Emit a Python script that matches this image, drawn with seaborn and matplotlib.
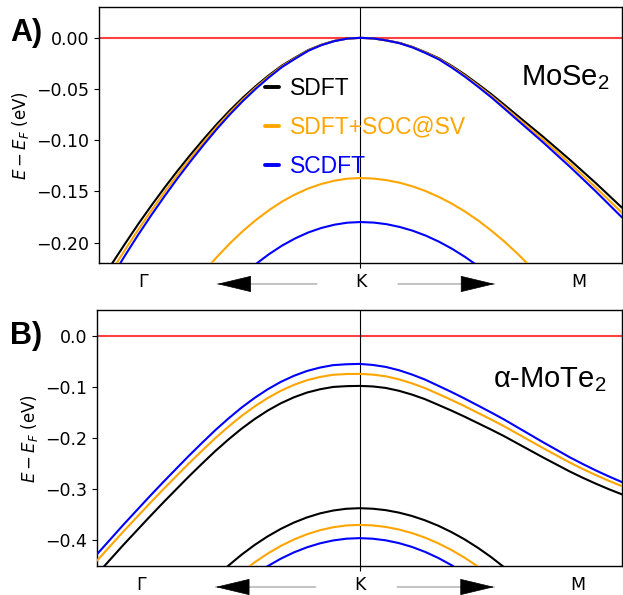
import matplotlib
matplotlib.use("Agg")
import matplotlib.pyplot as plt
from matplotlib.lines import Line2D
import seaborn as sns
import pandas as pd

# k path coordinate (K point at 0, Gamma side negative, M side positive)
K_FULL = [-1.00, -0.95, -0.90, -0.85, -0.80, -0.75, -0.70, -0.65, -0.60, -0.55, -0.50,
          -0.45, -0.40, -0.35, -0.30, -0.25, -0.20, -0.15, -0.10, -0.05, 0.00,
          0.05, 0.10, 0.15, 0.20, 0.25, 0.30, 0.35, 0.40, 0.45, 0.50,
          0.55, 0.60, 0.65, 0.70, 0.75, 0.80, 0.85, 0.90, 0.95, 1.00]
K_07 = [-0.70, -0.65, -0.60, -0.55, -0.50, -0.45, -0.40, -0.35, -0.30, -0.25, -0.20, -0.15,
        -0.10, -0.05, 0.00, 0.05, 0.10, 0.15, 0.20, 0.25, 0.30, 0.35, 0.40, 0.45, 0.50,
        0.55, 0.60, 0.65, 0.70]
K_06 = [-0.60, -0.55, -0.50, -0.45, -0.40, -0.35, -0.30, -0.25, -0.20, -0.15, -0.10, -0.05,
        0.00, 0.05, 0.10, 0.15, 0.20, 0.25, 0.30, 0.35, 0.40, 0.45, 0.50, 0.55, 0.60]
K_05 = [-0.50, -0.45, -0.40, -0.35, -0.30, -0.25, -0.20, -0.15, -0.10, -0.05, 0.00,
        0.05, 0.10, 0.15, 0.20, 0.25, 0.30, 0.35, 0.40, 0.45, 0.50]
K_04 = [-0.40, -0.35, -0.30, -0.25, -0.20, -0.15, -0.10, -0.05, 0.00,
        0.05, 0.10, 0.15, 0.20, 0.25, 0.30, 0.35, 0.40]

METHODS = ['SDFT', 'SDFT+SOC@SV', 'SCDFT']
COLORS = {'SDFT': 'black', 'SDFT+SOC@SV': 'orange', 'SCDFT': 'blue'}

# MoSe2 bands (eV)
mose2_sdft_vb1 = [-0.241, -0.2205, -0.201, -0.182, -0.164, -0.1466, -0.130, -0.1142, -0.099, -0.0845, -0.071,
                  -0.0585, -0.047, -0.0365, -0.027, -0.0193, -0.012, -0.0068, -0.003, -0.0007, 0.0,
                  -0.0006, -0.0025, -0.005, -0.009, -0.0142, -0.020, -0.0276, -0.036, -0.0453, -0.055,
                  -0.0654, -0.076, -0.0865, -0.097, -0.108, -0.119, -0.1305, -0.142, -0.154, -0.166]
mose2_soc_vb1 = [-0.2482, -0.2271, -0.207, -0.1875, -0.1689, -0.151, -0.1339, -0.1176, -0.102, -0.087, -0.0731,
                 -0.0603, -0.0484, -0.0376, -0.0278, -0.0199, -0.0124, -0.007, -0.0031, -0.0007, 0.0,
                 -0.0006, -0.0026, -0.0052, -0.0093, -0.0146, -0.0206, -0.0284, -0.0371, -0.0467, -0.0567,
                 -0.0674, -0.0783, -0.0891, -0.0999, -0.1112, -0.1226, -0.1344, -0.1463, -0.1586, -0.171]
mose2_scdft_vb1 = [-0.2547, -0.2331, -0.2125, -0.1924, -0.1733, -0.155, -0.1374, -0.1207, -0.1046, -0.0893, -0.075,
                   -0.0618, -0.0497, -0.0386, -0.0285, -0.0204, -0.0127, -0.0072, -0.0032, -0.0007, 0.0,
                   -0.0006, -0.0026, -0.0053, -0.0095, -0.015, -0.0211, -0.0292, -0.0381, -0.0479, -0.0581,
                   -0.0691, -0.0803, -0.0914, -0.1025, -0.1142, -0.1258, -0.1379, -0.1501, -0.1628, -0.1755]
mose2_soc_vb2 = [-0.2624, -0.2452, -0.2292, -0.2144, -0.201, -0.1888, -0.178, -0.1684, -0.160, -0.153,
                 -0.1472, -0.1428, -0.1396, -0.1376, -0.137, -0.1375, -0.1391, -0.1416, -0.1452, -0.1498,
                 -0.1555, -0.1621, -0.1698, -0.1785, -0.1883, -0.199, -0.2108, -0.2236, -0.2375]
mose2_scdft_vb2 = [-0.244, -0.2318, -0.221, -0.2114, -0.203, -0.196, -0.1902, -0.1858, -0.1826, -0.1806, -0.180,
                   -0.1805, -0.1821, -0.1848, -0.1885, -0.1933, -0.1992, -0.2061, -0.2141, -0.2231, -0.2333]

# alpha-MoTe2 bands (eV)
mote2_sdft_vb1 = [-0.466, -0.4375, -0.409, -0.3815, -0.354, -0.3272, -0.301, -0.275, -0.250, -0.2256, -0.203,
                  -0.1819, -0.163, -0.1463, -0.132, -0.1203, -0.111, -0.1045, -0.100, -0.0985, -0.098,
                  -0.099, -0.102, -0.1075, -0.115, -0.124, -0.135, -0.1462, -0.158, -0.1705, -0.183,
                  -0.196, -0.210, -0.224, -0.238, -0.2515, -0.265, -0.2774, -0.289, -0.2999, -0.310]
mote2_soc_vb1 = [-0.4395, -0.4111, -0.3828, -0.3554, -0.3281, -0.3014, -0.2754, -0.2495, -0.2247, -0.2004, -0.178,
                 -0.157, -0.1383, -0.1217, -0.1076, -0.096, -0.0869, -0.0805, -0.0762, -0.0748, -0.0745,
                 -0.0759, -0.0792, -0.0851, -0.093, -0.1024, -0.1137, -0.1253, -0.1375, -0.1504, -0.1632,
                 -0.1766, -0.191, -0.2054, -0.2197, -0.2336, -0.2475, -0.2603, -0.2722, -0.2835, -0.294]
mote2_scdft_vb1 = [-0.427, -0.3983, -0.3696, -0.3419, -0.3142, -0.2872, -0.2608, -0.2346, -0.2094, -0.1848, -0.162,
                   -0.1407, -0.1216, -0.1047, -0.0902, -0.0783, -0.0688, -0.0621, -0.0574, -0.0557, -0.055,
                   -0.057, -0.0609, -0.0673, -0.0758, -0.0857, -0.0977, -0.1098, -0.1226, -0.136, -0.1495,
                   -0.1634, -0.1784, -0.1933, -0.2083, -0.2227, -0.2372, -0.2505, -0.2631, -0.2749, -0.286]
mote2_sdft_vb2 = [-0.499, -0.4731, -0.4495, -0.4281, -0.409, -0.3921, -0.3775, -0.3651, -0.355, -0.3471,
                  -0.3415, -0.3381, -0.337, -0.338, -0.3408, -0.3456, -0.3522, -0.3608, -0.3712, -0.3836,
                  -0.3978, -0.414, -0.432, -0.452, -0.4738]
mote2_soc_vb2 = [-0.4841, -0.4623, -0.4429, -0.4257, -0.4108, -0.3982, -0.3879, -0.3799, -0.3742, -0.3707, -0.3696,
                 -0.3706, -0.3736, -0.3786, -0.3856, -0.3946, -0.4056, -0.4186, -0.4336, -0.4506, -0.4696]
mote2_scdft_vb2 = [-0.467, -0.4503, -0.4357, -0.4234, -0.4134, -0.4056, -0.400, -0.3966, -0.3955,
                   -0.3966, -0.3998, -0.4052, -0.4127, -0.4224, -0.4342, -0.4482, -0.4643]

PATH_LABELS = ['Γ', 'K', 'M']
PATH_POS = [-0.833, 0.0, 0.833]


def band_frame(pieces):
    rows = []
    for method, band, ks, es in pieces:
        for k, e in zip(ks, es):
            rows.append({'k': k, 'E': e, 'method': method, 'band': band})
    return pd.DataFrame(rows)


df_mose2 = band_frame([
    ('SDFT', 'vb1', K_FULL, mose2_sdft_vb1),
    ('SDFT+SOC@SV', 'vb1', K_FULL, mose2_soc_vb1),
    ('SDFT+SOC@SV', 'vb2', K_07, mose2_soc_vb2),
    ('SCDFT', 'vb1', K_FULL, mose2_scdft_vb1),
    ('SCDFT', 'vb2', K_05, mose2_scdft_vb2),
])
df_mote2 = band_frame([
    ('SDFT', 'vb1', K_FULL, mote2_sdft_vb1),
    ('SDFT', 'vb2', K_06, mote2_sdft_vb2),
    ('SDFT+SOC@SV', 'vb1', K_FULL, mote2_soc_vb1),
    ('SDFT+SOC@SV', 'vb2', K_05, mote2_soc_vb2),
    ('SCDFT', 'vb1', K_FULL, mote2_scdft_vb1),
    ('SCDFT', 'vb2', K_04, mote2_scdft_vb2),
])

sns.set_style('ticks')
plt.rcParams.update({
    'axes.edgecolor': 'black', 'axes.labelcolor': 'black', 'text.color': 'black',
    'xtick.color': 'black', 'ytick.color': 'black', 'axes.linewidth': 1.0,
})
plt.rcParams['font.family'] = ['DejaVu Sans']

fig = plt.figure(figsize=(6.23, 5.95), dpi=100)
axA = fig.add_axes([0.1589, 0.558, 0.8395, 0.430])
axB = fig.add_axes([0.1557, 0.0487, 0.8427, 0.430])


def draw_panel(ax, df, ylim, name, name_xy):
    ax.axhline(0, color='red', alpha=0.75, lw=1.5, zorder=1)
    ax.axvline(0, color='black', lw=0.8, zorder=1)
    sns.lineplot(data=df, x='k', y='E', hue='method', hue_order=METHODS,
                 units='band', estimator=None, sort=False, palette=COLORS,
                 lw=1.5, legend=False, ax=ax, zorder=3)
    ax.set_xlim(-1, 1)
    ax.set_ylim(*ylim)
    ax.set_xticks(PATH_POS)
    ax.set_xticklabels(PATH_LABELS)
    ticks = ax.xaxis.get_major_ticks()
    for i in (0, 2):
        ticks[i].tick1line.set_visible(False)
    ax.tick_params(axis='both', labelsize=12.5)
    ax.tick_params(axis='x', pad=4)
    ax.set_xlabel('')
    ax.set_ylabel('$E - E_F$ (eV)', fontsize=12)
    ax.text(name_xy[0], name_xy[1], name, transform=ax.transAxes,
            ha='right', va='baseline', fontsize=21, family='Liberation Sans')
    # direction arrows along k path
    for tail, tip in ((-0.167, -0.548), (0.144, 0.513)):
        ax.annotate('', xy=(tip, -0.082), xytext=(tail, -0.082),
                    xycoords=('data', 'axes fraction'), textcoords=('data', 'axes fraction'),
                    arrowprops=dict(arrowstyle='-', color='#aaaaaa', lw=1.0,
                                    shrinkA=0, shrinkB=0))
        head_base = tip - 0.12 * (1 if tip > tail else -1)
        ax.annotate('', xy=(tip, -0.082), xytext=(head_base, -0.082),
                    xycoords=('data', 'axes fraction'), textcoords=('data', 'axes fraction'),
                    arrowprops=dict(arrowstyle='-|>,head_length=2.3,head_width=0.55',
                                    color='black', lw=0.5, mutation_scale=10,
                                    shrinkA=0, shrinkB=0))


draw_panel(axA, df_mose2, (-0.22, 0.03), r'MoSe$_\mathregular{2}$', (0.977, 0.695))
draw_panel(axB, df_mote2, (-0.45, 0.05), r'α-MoTe$_\mathregular{2}$', (0.971, 0.70))

handles = [Line2D([], [], color=COLORS[m], lw=2.8) for m in METHODS]
leg = axA.legend(handles, METHODS, loc='upper left', bbox_to_anchor=(0.317, 0.728),
                 frameon=False, borderpad=0, borderaxespad=0, handlelength=0.6,
                 handletextpad=0.5, labelspacing=0.7,
                 prop={'family': 'Liberation Sans', 'size': 16.5})
for txt, m in zip(leg.get_texts(), METHODS):
    txt.set_color(COLORS[m])

fig.text(10 / 623, 1 - 41 / 595, 'A)', fontsize=22, fontweight='bold', family='Liberation Sans')
fig.text(10 / 623, 1 - 344 / 595, 'B)', fontsize=22, fontweight='bold', family='Liberation Sans')

fig.savefig('out.png', dpi=100)
